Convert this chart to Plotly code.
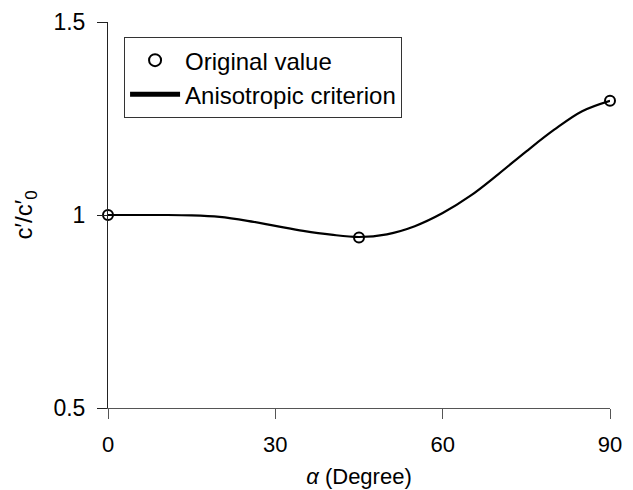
import plotly.graph_objects as go

# Measured values at the three orientations
alpha_pts = [0, 45, 90]
ratio_pts = [1.000, 0.942, 1.296]

# Anisotropic criterion curve
alpha_curve = [0, 5, 10, 15, 20, 25, 30, 35, 40, 45, 50, 55, 60, 65, 70, 75, 80, 85, 90]
ratio_curve = [1.000, 1.000, 1.000, 0.999, 0.995, 0.985, 0.972, 0.959, 0.949, 0.943,
               0.950, 0.971, 1.005, 1.050, 1.106, 1.165, 1.221, 1.269, 1.296]

x_ticks = [0, 30, 60, 90]
y_ticks = [0.5, 1, 1.5]
y_tick_text = ["0.5", "1", "1.5"]

FONT = "Liberation Sans, Arial, sans-serif"

fig = go.Figure()
fig.add_trace(go.Scatter(
    x=alpha_pts, y=ratio_pts, mode="markers", name="Original value",
    marker=dict(symbol="circle-open", size=10, color="black", line=dict(width=2)),
    cliponaxis=False,
))
fig.add_trace(go.Scatter(
    x=alpha_curve, y=ratio_curve, mode="lines", name="Anisotropic criterion",
    line=dict(color="black", width=2.2, shape="spline", smoothing=1.0),
    cliponaxis=False,
))

fig.update_layout(
    width=633, height=490,
    margin=dict(l=108, r=23, t=22, b=82, autoexpand=False),
    paper_bgcolor="white", plot_bgcolor="white",
    font=dict(family=FONT, size=22, color="black"),
    showlegend=True,
    legend=dict(
        x=0.032, y=0.961, xanchor="left", yanchor="top",
        bgcolor="white", bordercolor="#333", borderwidth=1,
        font=dict(family=FONT, size=24, color="black"),
        tracegroupgap=0, itemsizing="constant", itemwidth=50,
    ),
    xaxis=dict(
        range=[0, 90], tickvals=x_ticks, ticks="outside", ticklen=10, tickwidth=1,
        tickcolor="#555", showline=True, linecolor="#555", linewidth=1,
        showgrid=False, zeroline=False, ticklabelstandoff=7, automargin=False,
        tickfont=dict(family=FONT, size=22, color="black"),
        title=dict(text="<i>α</i> (Degree)", standoff=12,
                   font=dict(family=FONT, size=22, color="black")),
    ),
    yaxis=dict(
        range=[0.5, 1.5], tickvals=y_ticks, ticktext=y_tick_text, ticks="outside",
        ticklen=10, tickwidth=1, tickcolor="#222", showline=True, linecolor="#222",
        linewidth=1, showgrid=False, zeroline=False, ticklabelstandoff=7,
        automargin=False,
        tickfont=dict(family=FONT, size=23, color="black"),
        title=dict(text="c′/c′<sub>0</sub>", standoff=14,
                   font=dict(family=FONT, size=24, color="black")),
    ),
)

fig.write_html("out.html")
